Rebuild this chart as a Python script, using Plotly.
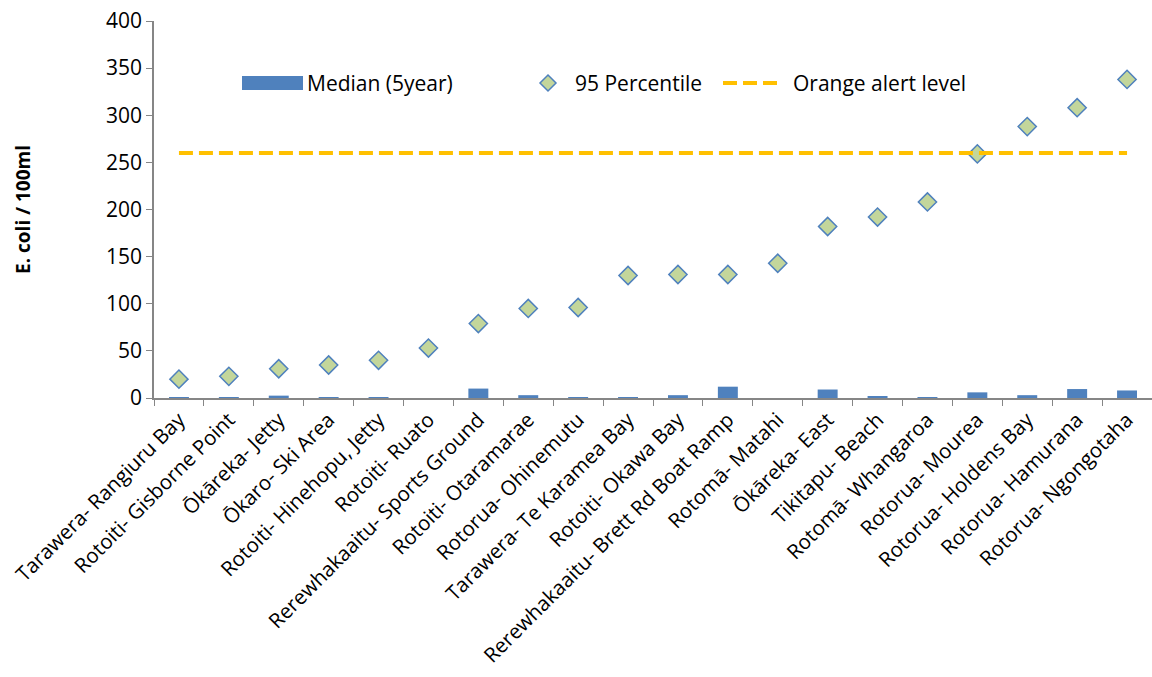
import plotly.graph_objects as go

sites = [
    "Tarawera- Rangiuru Bay", "Rotoiti- Gisborne Point", "Ōkāreka- Jetty",
    "Ōkaro- Ski Area", "Rotoiti- Hinehopu, Jetty", "Rotoiti- Ruato",
    "Rerewhakaaitu- Sports Ground", "Rotoiti- Otaramarae", "Rotorua- Ohinemutu",
    "Tarawera- Te Karamea Bay", "Rotoiti- Okawa Bay", "Rerewhakaaitu- Brett Rd Boat Ramp",
    "Rotomā- Matahi", "Ōkāreka- East", "Tikitapu- Beach", "Rotomā- Whangaroa",
    "Rotorua- Mourea", "Rotorua- Holdens Bay", "Rotorua- Hamurana", "Rotorua- Ngongotaha",
]
median_5yr = [0.5, 1, 2.5, 0.3, 0.3, 0, 10, 3, 1, 1, 3, 12, 0, 9, 2, 0.5, 6, 3, 9.5, 8]
percentile_95 = [20, 23, 31, 35, 40, 53, 79, 95, 96, 130, 131, 131, 143, 182, 192, 208, 259, 288, 308, 338]
alert_level = 260
y_ticks = [0, 50, 100, 150, 200, 250, 300, 350, 400]
legend_labels = ["Median (5year)", "95 Percentile", "Orange alert level"]

FONT = "Open Sans"
AXIS_GREY = "#868686"
BAR_BLUE = "#4F81BD"
DIAMOND_GREEN = "#C3D69B"
ALERT_ORANGE = "#FFC000"
ALERT_DASH = "14px,6px"

W, H = 1152, 677
M_L, M_R, M_T, M_B = 154, 0, 21, 279
PLOT_W = W - M_L - M_R
PLOT_H = H - M_T - M_B


def px_x(px):
    """Horizontal pixel position -> paper fraction of the plotting area."""
    return (px - M_L) / PLOT_W


def px_y(py):
    """Vertical pixel position (from top) -> paper fraction of the plotting area."""
    return (H - M_B - py) / PLOT_H


fig = go.Figure()
fig.add_trace(go.Bar(
    x=sites, y=median_5yr, name=legend_labels[0],
    marker=dict(color=BAR_BLUE, line=dict(width=0)),
))
fig.add_trace(go.Scatter(
    x=sites, y=percentile_95, name=legend_labels[1], mode="markers",
    marker=dict(symbol="diamond", size=14, color=DIAMOND_GREEN,
                line=dict(color=BAR_BLUE, width=1.5)),
))
fig.add_trace(go.Scatter(
    x=sites, y=[alert_level] * len(sites), name=legend_labels[2], mode="lines",
    line=dict(color=ALERT_ORANGE, width=4, dash=ALERT_DASH),
))

# Legend row drawn as shapes + text so the bar swatch keeps its wide shape
leg_y = 83
shapes = [
    dict(type="rect", xref="paper", yref="paper",
         x0=px_x(242), x1=px_x(303), y0=px_y(90), y1=px_y(76),
         fillcolor=BAR_BLUE, line=dict(width=0)),
    dict(type="path", xref="paper", yref="paper",
         path=(f"M {px_x(548)} {px_y(leg_y - 8)} L {px_x(556)} {px_y(leg_y)} "
               f"L {px_x(548)} {px_y(leg_y + 8)} L {px_x(540)} {px_y(leg_y)} Z"),
         fillcolor=DIAMOND_GREEN, line=dict(color=BAR_BLUE, width=1.5)),
    dict(type="line", xref="paper", yref="paper",
         x0=px_x(723), x1=px_x(780), y0=px_y(leg_y), y1=px_y(leg_y),
         line=dict(color=ALERT_ORANGE, width=4, dash=ALERT_DASH)),
]
annotations = [
    dict(text=txt, xref="paper", yref="paper", x=px_x(xl), y=px_y(leg_y),
         xanchor="left", yanchor="middle", showarrow=False,
         font=dict(family=FONT, size=21, color="black"))
    for txt, xl in zip(legend_labels, [305, 573, 791])
]

fig.update_layout(
    width=W, height=H,
    margin=dict(l=M_L, r=M_R, t=M_T, b=M_B, autoexpand=False),
    paper_bgcolor="white", plot_bgcolor="white",
    font=dict(family=FONT, size=18, color="black"),
    bargap=0.6,
    showlegend=False,
    shapes=shapes,
    annotations=annotations,
    xaxis=dict(
        type="category", tickangle=-45, tickfont=dict(family=FONT, size=20.5),
        showline=True, linecolor=AXIS_GREY, linewidth=1.5,
        ticks="outside", ticklen=6, tickcolor=AXIS_GREY, tickson="boundaries",
        showgrid=False, range=[-0.5, len(sites) - 0.5], automargin=False,
    ),
    yaxis=dict(
        range=[0, 400], tickvals=y_ticks, tickfont=dict(family=FONT, size=21),
        showline=True, linecolor=AXIS_GREY, linewidth=1.5,
        ticks="outside", ticklen=6, tickcolor=AXIS_GREY,
        showgrid=False, zeroline=False, automargin=False,
        title=dict(text="<b>E. coli / 100ml</b>", font=dict(family=FONT, size=19), standoff=70),
    ),
)

fig.write_html("out.html")
